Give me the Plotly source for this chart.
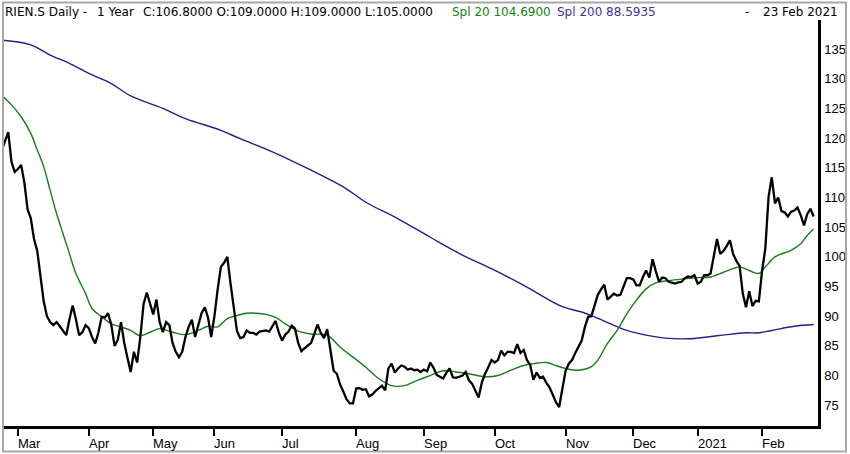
import pandas as pd
import plotly.graph_objects as go

# ---------------- data ----------------
holidays = ["2020-04-10", "2020-04-13", "2020-05-01", "2020-05-21", "2020-06-01",
            "2020-12-24", "2020-12-25", "2020-12-31", "2021-01-01"]
dates = [d.strftime("%Y-%m-%d") for d in pd.bdate_range("2020-02-24", "2021-02-23")
         if d.strftime("%Y-%m-%d") not in holidays]

close = [
    118.0, 119.5, 121.0, 116.0, 114.3, 114.8, 115.5, 112.5, 108.0, 106.5,
    103.0, 101.0, 97.0, 92.5, 90.0, 89.0, 88.5, 89.0, 88.3, 87.5,
    86.8, 89.5, 91.8, 89.5, 86.8, 87.3, 88.5, 88.0, 86.5, 85.4,
    87.3, 89.9, 89.8, 90.5, 88.5, 85.0, 86.0, 89.0, 85.5, 83.0,
    80.6, 84.0, 82.2, 86.5, 92.0, 94.0, 92.0, 90.3, 92.8, 89.0,
    87.3, 89.0, 88.5, 85.5, 84.0, 83.1, 84.0, 86.5, 88.2, 89.4,
    86.5, 88.5, 90.5, 91.5, 89.8, 86.5, 90.0, 94.5, 98.3, 99.0,
    100.0, 95.5, 91.5, 87.5, 86.3, 86.5, 87.6, 87.2, 87.2, 86.9,
    87.4, 87.5, 87.6, 87.4, 88.2, 89.2, 87.2, 85.9, 86.9, 87.4,
    88.4, 87.9, 85.5, 84.1, 84.6, 85.0, 85.5, 87.0, 88.6, 87.2,
    86.3, 87.8, 84.5, 80.8, 80.3, 78.5, 77.3, 76.0, 75.3, 75.3,
    77.8, 77.9, 77.6, 77.7, 76.5, 76.8, 77.4, 77.8, 78.3, 77.5,
    81.2, 82.0, 80.5, 81.2, 81.7, 81.5, 81.0, 81.2, 80.9, 81.0,
    80.6, 81.0, 80.7, 82.2, 81.3, 80.1, 79.8, 79.5, 80.5, 81.2,
    79.7, 79.6, 79.8, 80.0, 80.6, 79.2, 78.6, 77.5, 76.3, 78.8,
    80.3, 81.4, 82.6, 82.2, 82.6, 84.2, 83.4, 84.0, 84.0, 83.8,
    85.3, 83.8, 84.3, 82.6, 81.8, 79.3, 80.5, 79.6, 79.8, 78.8,
    78.0, 76.8, 75.5, 74.7, 77.5, 80.8, 82.0, 82.6, 83.8, 84.8,
    85.9, 88.2, 89.9, 90.0, 92.0, 93.6, 94.5, 95.3, 92.8, 93.3,
    93.8, 93.5, 93.6, 95.0, 96.4, 96.4, 96.2, 95.2, 95.2, 96.6,
    97.7, 96.5, 99.6, 97.6, 95.8, 96.5, 96.4, 95.8, 95.6, 95.5,
    95.7, 95.8, 96.4, 96.7, 96.6, 96.9, 95.5, 95.8, 96.9, 96.9,
    97.2, 100.0, 103.0, 100.5, 101.0, 101.8, 102.8, 100.5, 99.3, 98.5,
    93.8, 91.5, 94.2, 91.7, 92.6, 92.5, 97.7, 101.4, 110.1, 113.4,
    109.0, 110.0, 107.7, 107.5, 106.8, 107.6, 107.8, 108.3, 107.0, 105.3,
    107.2, 108.1, 106.8,
]

sma20_idx = [0, 3, 6, 9, 11, 13, 15, 17, 19, 21, 23, 26, 28, 31, 34, 37, 40, 43, 46, 49,
             53, 57, 61, 64, 67, 70, 73, 76, 79, 82, 85, 88, 92, 96, 101, 105, 109, 113,
             117, 121, 125, 129, 133, 137, 141, 145, 150, 154, 158, 162, 165, 169, 172,
             175, 179, 183, 185, 188, 191, 194, 197, 200, 203, 207, 212, 216, 220, 224,
             227, 229, 232, 235, 237, 240, 245, 248, 250, 252]
sma20_val = [127.2, 125.6, 123.6, 120.8, 118.0, 115.2, 111.2, 107.3, 103.9, 100.5, 97.2,
             93.8, 91.3, 89.9, 88.7, 88.2, 87.6, 86.7, 87.3, 87.9, 87.3, 86.9, 87.6, 88.3,
             88.2, 89.6, 90.1, 90.5, 90.5, 90.3, 89.8, 88.7, 87.5, 87.0, 86.8, 84.8, 83.1,
             81.4, 79.5, 78.3, 78.3, 79.2, 80.0, 80.8, 80.6, 80.3, 79.8, 80.0, 80.9, 81.7,
             82.0, 82.2, 81.7, 81.2, 80.9, 81.5, 82.6, 85.4, 87.6, 90.4, 92.7, 94.6, 95.6,
             96.0, 96.3, 96.5, 96.6, 97.4, 98.0, 98.3, 97.7, 97.2, 98.3, 100.0, 101.1,
             102.2, 103.6, 104.69]

sma200_idx = [0, 9, 15, 21, 27, 34, 40, 50, 57, 68, 74, 84, 96, 106, 113, 123, 133, 143,
              152, 162, 174, 180, 184, 189, 194, 200, 206, 213, 219, 225, 231, 235, 239,
              246, 252]
sma200_val = [136.5, 135.7, 134.0, 132.6, 130.9, 129.2, 127.1, 125.0, 123.3, 121.3, 119.9,
              117.7, 114.6, 111.8, 109.2, 106.4, 103.3, 100.3, 98.0, 95.2, 91.6, 90.7,
              89.9, 88.7, 87.6, 86.8, 86.3, 86.2, 86.5, 86.9, 87.2, 87.2, 87.6, 88.3,
              88.5935]

ticker = "RIEN.S"
open_v, high_v, low_v = 109.0, 109.0, 105.0
ytick_vals = [75, 80, 85, 90, 95, 100, 105, 110, 115, 120, 125, 130, 135]
month_names = ["Jan", "Feb", "Mar", "Apr", "May", "Jun", "Jul", "Aug", "Sep", "Oct", "Nov", "Dec"]

# ---------------- figure ----------------
W, H = 850, 454
L, R, T, B = 3, 818, 20, 425.6  # plot area in pixels


def px(x):
    return (x - L) / (R - L)


def py(y):
    return (B - y) / (B - T)


GREEN = "#187c18"
PURPLE = "#2c1a8c"

fig = go.Figure()
fig.add_trace(go.Scatter(x=dates, y=close, mode="lines",
                         line=dict(color="black", width=2.3)))
fig.add_trace(go.Scatter(x=[dates[i] for i in sma200_idx], y=sma200_val, mode="lines",
                         line=dict(color=PURPLE, width=1.4, shape="spline"), hoverinfo="skip"))
fig.add_trace(go.Scatter(x=[dates[i] for i in sma20_idx], y=sma20_val, mode="lines",
                         line=dict(color=GREEN, width=1.4, shape="spline"), hoverinfo="skip"))
# keep the price line on top
fig.data = (fig.data[1], fig.data[2], fig.data[0])

# month ticks: first trading day of each month after start
tickvals, ticktext = [], []
prev = dates[0][:7]
for d in dates[1:]:
    if d[:7] != prev:
        tickvals.append(d)
        m = int(d[5:7])
        ticktext.append(d[:4] if m == 1 else month_names[m - 1])
        prev = d[:7]

annotations = []
for tv, tt in zip(tickvals, ticktext):
    annotations.append(dict(x=tv, y=py(443), xref="x", yref="paper", text=tt,
                            showarrow=False, xanchor="left", yanchor="middle", xshift=-2,
                            font=dict(family="Liberation Sans", size=13, color="black")))

hfont = dict(family="DejaVu Sans", size=12, color="black")
header = [
    (5, f"{ticker} Daily -", "black"),
    (97, "1 Year", "black"),
    (143, f"C:{close[-1]:.4f} O:{open_v:.4f} H:{high_v:.4f} L:{low_v:.4f}", "black"),
    (452, f"Spl 20 {sma20_val[-1]:.4f}", "#148214"),
    (557, f"Spl 200 {sma200_val[-1]:.4f}", "#4b2c96"),
    (745, "-", "black"),
    (763, "23 Feb 2021", "black"),
]
for xp, txt, col in header:
    annotations.append(dict(x=px(xp), y=py(12), xref="paper", yref="paper", text=txt,
                            showarrow=False, xanchor="left", yanchor="middle", xshift=-2,
                            font=dict(hfont, color=col)))

fig.update_layout(
    width=W, height=H,
    margin=dict(l=L, r=W - R, t=T, b=H - B, pad=0),
    paper_bgcolor="white", plot_bgcolor="white",
    showlegend=False,
    annotations=annotations,
    shapes=[dict(type="rect", xref="paper", yref="paper",
                 x0=px(3), x1=px(846), y0=py(451), y1=py(2.5),
                 line=dict(color="#a8a8a8", width=2), fillcolor="rgba(0,0,0,0)")],
    xaxis=dict(type="category", categoryorder="array", categoryarray=dates,
               range=[0.37, 253.35], tickvals=tickvals,
               showticklabels=False, ticks="outside", ticklen=7, tickwidth=1.5,
               tickcolor="black", showline=True, linecolor="black", linewidth=2.7,
               showgrid=False, zeroline=False, fixedrange=True),
    yaxis=dict(side="right", range=[71.5, 139.9], tickvals=ytick_vals,
               ticks="outside", ticklen=1, tickcolor="rgba(0,0,0,0)",
               tickfont=dict(family="Liberation Sans", size=13, color="black"),
               showline=True, linecolor="black", linewidth=2.5,
               showgrid=False, zeroline=False, fixedrange=True),
)

fig.write_html("out.html", config={"displayModeBar": False},
               post_script="document.body.style.margin='0px';")
